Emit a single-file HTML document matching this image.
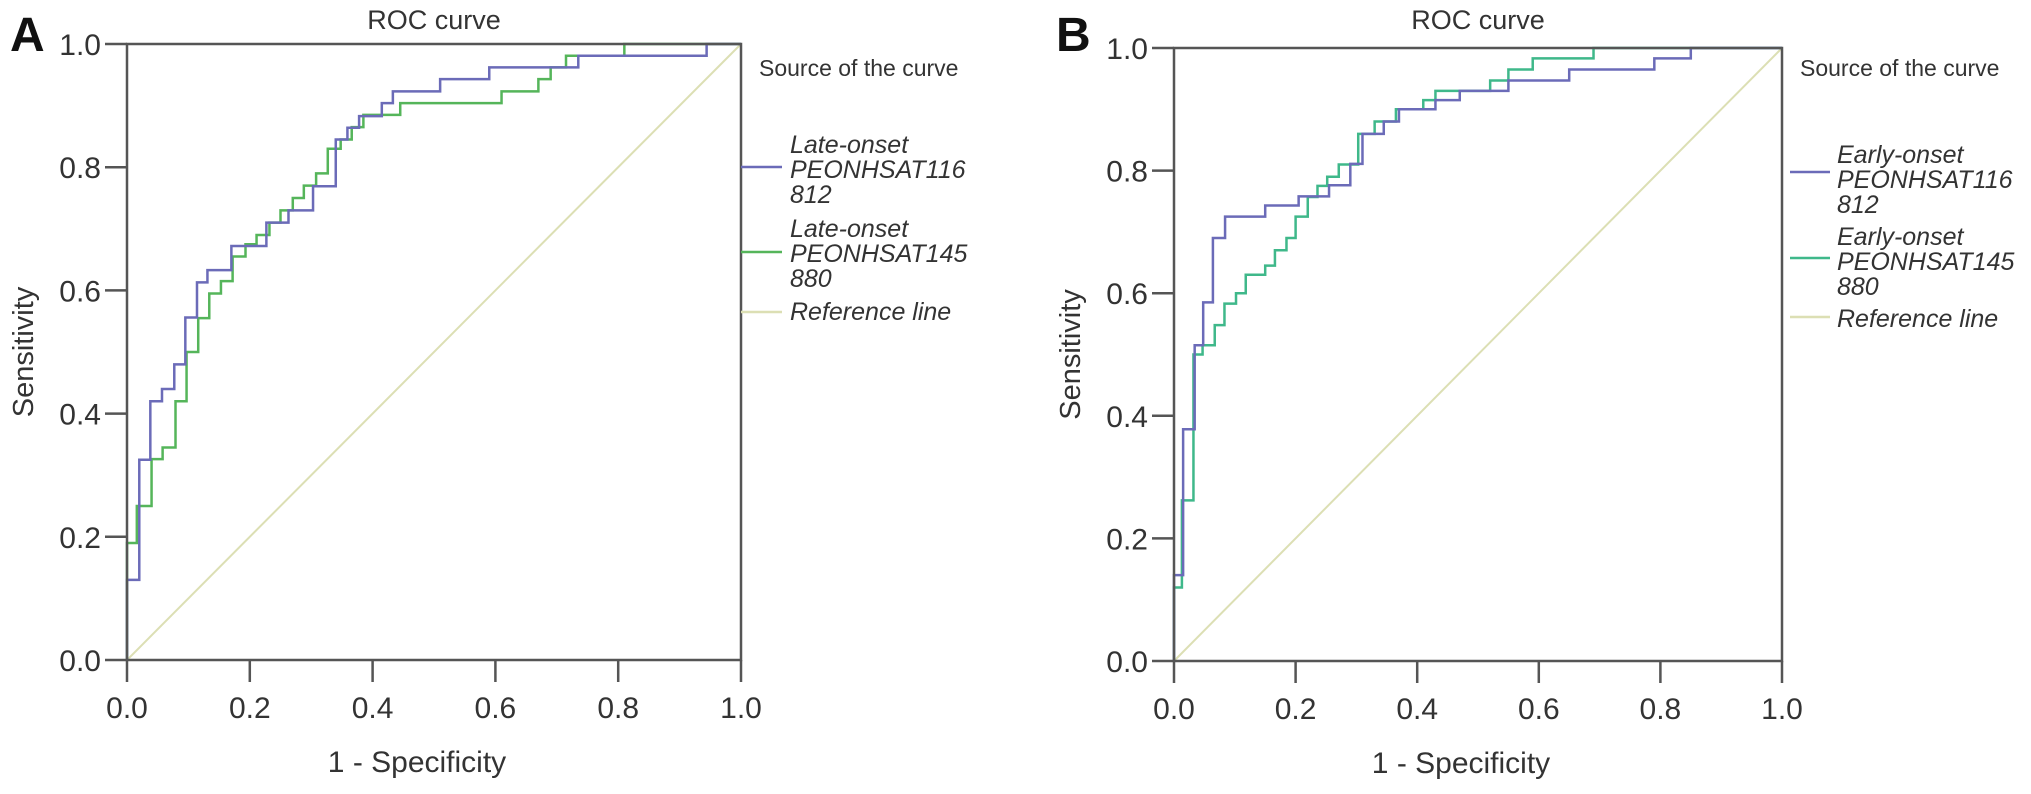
<!DOCTYPE html>
<html><head><meta charset="utf-8">
<style>
html,body{margin:0;padding:0;background:#fff;}
svg{display:block;font-family:"Liberation Sans",sans-serif;}
</style></head>
<body>
<svg id="chart" width="2031" height="794" viewBox="0 0 2031 794"></svg>
<script>
const xTicks = [0, 0.2, 0.4, 0.6, 0.8, 1.0];
const yTicks = [0, 0.2, 0.4, 0.6, 0.8, 1.0];
const tickLabels = ["0.0", "0.2", "0.4", "0.6", "0.8", "1.0"];

const aBlueX = [0,0.02,0.038,0.057,0.077,0.095,0.114,0.131,0.17,0.227,0.263,0.303,0.34,0.359,0.378,0.415,0.433,0.51,0.59,0.735,0.944,1];
const aBlueY = [0.13,0.325,0.42,0.44,0.48,0.556,0.613,0.633,0.672,0.71,0.73,0.769,0.845,0.864,0.883,0.904,0.923,0.943,0.962,0.981,1,1];
const aGreenX = [0,0.016,0.04,0.058,0.079,0.097,0.116,0.134,0.153,0.172,0.193,0.211,0.232,0.25,0.27,0.288,0.308,0.327,0.348,0.366,0.385,0.445,0.61,0.67,0.69,0.715,0.81,1];
const aGreenY = [0.19,0.25,0.326,0.345,0.42,0.5,0.555,0.595,0.615,0.655,0.675,0.69,0.71,0.73,0.75,0.77,0.79,0.83,0.845,0.865,0.885,0.904,0.923,0.943,0.962,0.981,1,1];

const bBlueX = [0,0.015,0.034,0.048,0.064,0.084,0.15,0.205,0.255,0.29,0.31,0.345,0.37,0.43,0.47,0.55,0.65,0.79,0.85,1];
const bBlueY = [0.14,0.378,0.515,0.585,0.69,0.725,0.743,0.758,0.776,0.811,0.86,0.88,0.9,0.915,0.93,0.947,0.965,0.983,1,1];
const bGreenX = [0,0.013,0.032,0.047,0.067,0.083,0.102,0.118,0.15,0.166,0.185,0.2,0.22,0.236,0.252,0.271,0.303,0.33,0.365,0.41,0.43,0.52,0.55,0.59,0.69,1];
const bGreenY = [0.12,0.262,0.5,0.515,0.548,0.583,0.6,0.63,0.645,0.67,0.69,0.725,0.757,0.775,0.79,0.81,0.86,0.88,0.9,0.915,0.93,0.947,0.965,0.983,1,1];

const NS = "http://www.w3.org/2000/svg";
const svg = document.getElementById("chart");
function mk(tag, attrs, parent, text){
  const e = document.createElementNS(NS, tag);
  for (const k in attrs) e.setAttribute(k, attrs[k]);
  if (text !== undefined) e.textContent = text;
  (parent || svg).appendChild(e);
  return e;
}

function panel(cfg){
  const g = mk("g", {});
  
  
  const sx = v => cfg.x0 + v * (cfg.x1 - cfg.x0);
  const sy = v => cfg.y0 - v * (cfg.y0 - cfg.y1);

  const ref = mk("line", {x1:sx(0), y1:sy(0), x2:sx(1), y2:sy(1), stroke:"#dcdfb4", "stroke-width":2}, g);
  
  

  function step(xs, ys, color, nm){
    let d = "M" + sx(0) + "," + sy(0);
    let cy = sy(0);
    for (let i = 0; i < xs.length; i++){
      d += " L" + sx(xs[i]) + "," + cy;
      cy = sy(ys[i]);
      d += " L" + sx(xs[i]) + "," + cy;
    }
    const p = mk("path", {d:d, fill:"none", stroke:color, "stroke-width":2.5}, g);
    
    
  }
  step(cfg.gx, cfg.gy, cfg.greenColor, 'roc-curve-145880');
  step(cfg.bx, cfg.by, "#6b6bb8", 'roc-curve-116812');

  const fr = mk("rect", {x:cfg.x0, y:cfg.y1, width:cfg.x1-cfg.x0, height:cfg.y0-cfg.y1, fill:"none", stroke:"#555", "stroke-width":2.5}, g);
  
  

  yTicks.forEach((v, i) => {
    const t = mk("line", {x1:cfg.x0-22, x2:cfg.x0, y1:sy(v), y2:sy(v), stroke:"#555", "stroke-width":2.5}, g);
    
    
    const l = mk("text", {x:cfg.x0-26, y:sy(v)+11, "text-anchor":"end", "font-size":30, fill:"#333"}, g, tickLabels[i]);
    
    
  });
  xTicks.forEach((v, i) => {
    const t = mk("line", {x1:sx(v), x2:sx(v), y1:cfg.y0, y2:cfg.y0+22, stroke:"#555", "stroke-width":2.5}, g);
    
    
    const l = mk("text", {x:sx(v), y:cfg.y0+58, "text-anchor":"middle", "font-size":30, fill:"#333"}, g, tickLabels[i]);
    
    
  });

  const title = mk("text", {x:(cfg.x0+cfg.x1)/2, y:29, "text-anchor":"middle", "font-size":27, fill:"#333"}, g, "ROC curve");
  
  
  const lab = mk("text", {x:cfg.labX, y:51, "font-size":48, "font-weight":"bold", fill:"#111"}, g, cfg.letter);
  
  
  const xt = mk("text", {x:(cfg.x0+cfg.x1)/2-17, y:cfg.y0+112, "text-anchor":"middle", "font-size":30, fill:"#333"}, g, "1 - Specificity");
  
  
  const yt = mk("text", {x:0, y:0, "text-anchor":"middle", "font-size":29, fill:"#333", transform:"translate(" + (cfg.x0-94) + "," + ((cfg.y0+cfg.y1)/2) + ") rotate(-90)"}, g, "Sensitivity");
  
  

  const lg = mk("g", {}, g);
  
  
  const st = mk("text", {x:cfg.titleX, y:76, "font-size":23, fill:"#333"}, lg, "Source of the curve");
  
  
  const entries = [
    {c:"#6b6bb8", ly:cfg.ly[0], tb:cfg.tb[0], lines:[cfg.prefix, "PEONHSAT116", "812"], n:'legend-entry-116812'},
    {c:cfg.greenColor, ly:cfg.ly[1], tb:cfg.tb[1], lines:[cfg.prefix, "PEONHSAT145", "880"], n:'legend-entry-145880'},
    {c:"#dcdfb4", ly:cfg.ly[2], tb:cfg.tb[2], lines:["Reference line"], n:'legend-entry-reference'}
  ];
  entries.forEach(en => {
    const eg = mk("g", {}, lg);
    
    
    mk("line", {x1:cfg.lineX1, x2:cfg.lineX2, y1:en.ly, y2:en.ly, stroke:en.c, "stroke-width":2.5}, eg);
    en.lines.forEach((t, k) => {
      mk("text", {x:cfg.textX, y:en.tb+k*25, "font-size":25, "font-style":"italic", fill:"#333"}, eg, t);
    });
  });
}

panel({name:'panel-a', letter:'A', labX:10, x0:127, x1:741, y0:660, y1:44,
  bx:aBlueX, by:aBlueY, gx:aGreenX, gy:aGreenY, greenColor:"#55b55a",
  prefix:"Late-onset", titleX:759, lineX1:741, lineX2:782, textX:790,
  ly:[167,252,312], tb:[153,237,320]});
panel({name:'panel-b', letter:'B', labX:1056, x0:1174, x1:1782, y0:661, y1:48,
  bx:bBlueX, by:bBlueY, gx:bGreenX, gy:bGreenY, greenColor:"#3fb88a",
  prefix:"Early-onset", titleX:1800, lineX1:1790, lineX2:1830, textX:1837,
  ly:[172,258,317], tb:[163,245,327]});
</script>
</body></html>
